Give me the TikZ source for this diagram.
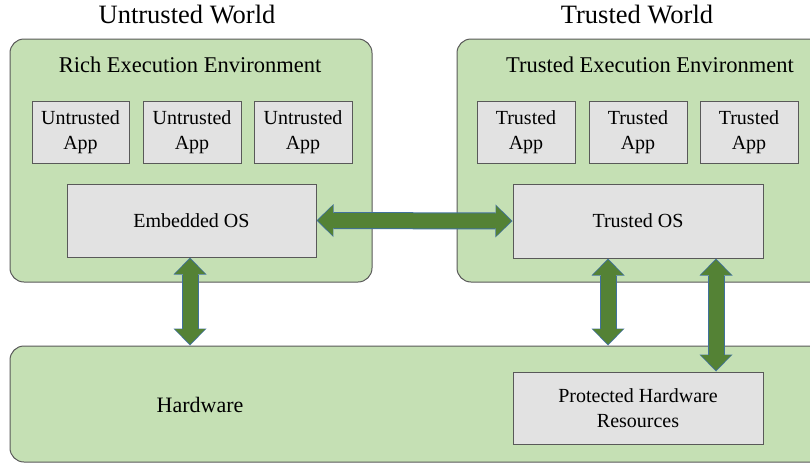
\documentclass[tikz,border=0pt]{standalone}
\usepackage{fontspec}
\setmainfont{Liberation Serif}
\usetikzlibrary{arrows.meta}

\definecolor{envgreen}{HTML}{C5E0B4}
\definecolor{boxgray}{HTML}{E2E2E2}
\definecolor{edgegray}{HTML}{595959}
\definecolor{arrowgreen}{HTML}{548235}
\definecolor{arrowblue}{HTML}{41719C}

\tikzset{
  envbox/.style={draw=edgegray, fill=envgreen, rounded corners=14pt, line width=1pt, inner sep=0pt},
  partbox/.style={draw=edgegray, fill=boxgray, line width=1pt, inner sep=0pt, align=center,
    font=\fontsize{20}{24.5}\selectfont},
  biarrow/.style={draw=arrowblue, line width=17pt,
    {Triangle[length=17pt,width=33pt,line width'=0pt]}-{Triangle[length=17pt,width=33pt,line width'=0pt]},
    postaction={draw=arrowgreen, line width=15pt, shorten <=1.4pt, shorten >=1.4pt,
    {Triangle[length=15pt,width=30pt,line width'=0pt]}-{Triangle[length=15pt,width=30pt,line width'=0pt]}}}
}

\begin{document}
\begin{tikzpicture}[x=1pt,y=-1pt]
\useasboundingbox (0,0) rectangle (810,463);
\clip (0,0) rectangle (810,463);

% worlds
\node[font=\fontsize{26.5}{30}\selectfont] (uworld) at (187,15) {Untrusted World};
\node[font=\fontsize{26.5}{30}\selectfont] (tworld) at (637,15) {Trusted World};

% environments
\node[envbox, minimum width=362pt, minimum height=243pt] (ree) at (191,160.5) {};
\node[envbox, minimum width=368pt, minimum height=243pt] (tee) at (641,160.5) {};
\node[envbox, minimum width=815pt, minimum height=116pt] (hw) at (417.5,404) {};

\node[font=\fontsize{22.5}{26}\selectfont] (reetitle) at (190,65) {Rich Execution Environment};
\node[font=\fontsize{22.5}{26}\selectfont] (teetitle) at (650,65) {Trusted Execution Environment};
\node[font=\fontsize{22}{26}\selectfont] (hwtitle) at (200,404.5) {Hardware};

% apps
\node[partbox, minimum width=97pt, minimum height=62pt] (uapp1) at (80.5,132) {Untrusted\\App};
\node[partbox, minimum width=98pt, minimum height=62pt] (uapp2) at (192,132) {Untrusted\\App};
\node[partbox, minimum width=98pt, minimum height=62pt] (uapp3) at (303,132) {Untrusted\\App};
\node[partbox, minimum width=98pt, minimum height=62pt] (tapp1) at (526,132) {Trusted\\App};
\node[partbox, minimum width=98pt, minimum height=62pt] (tapp2) at (638,132) {Trusted\\App};
\node[partbox, minimum width=98pt, minimum height=62pt] (tapp3) at (749,132) {Trusted\\App};

% OS / resources
\node[partbox, minimum width=249pt, minimum height=73pt] (eos) at (191.5,220.5) {Embedded OS};
\node[partbox, minimum width=250pt, minimum height=74pt] (tos) at (638,221) {Trusted OS};
\node[partbox, minimum width=250pt, minimum height=72pt] (phr) at (638,408) {Protected Hardware\\Resources};

% connections
\draw[biarrow] (eos.east) -- (tos.west);
\draw[biarrow] ([xshift=-1.5pt]eos.south) -- ([xshift=-1.5pt]eos.south |- hw.north);
\draw[biarrow] ([xshift=-30pt]tos.south) -- ([xshift=-30pt]tos.south |- hw.north);
\draw[biarrow] ([xshift=78pt]tos.south) -- ([xshift=78pt]tos.south |- phr.north);

\end{tikzpicture}
\end{document}
